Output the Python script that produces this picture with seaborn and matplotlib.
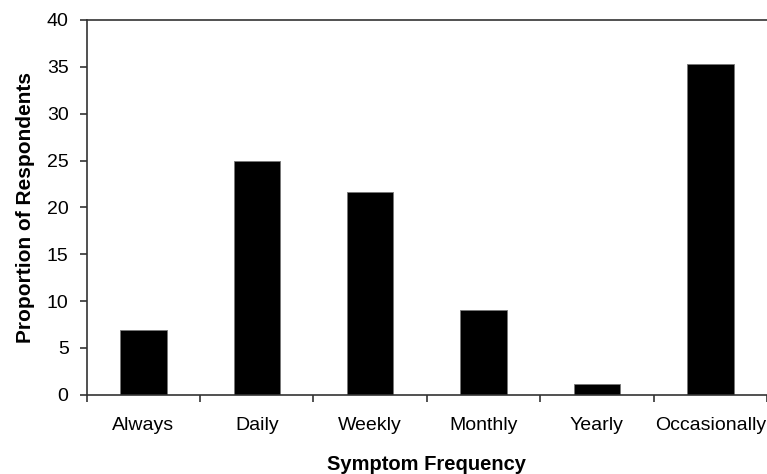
import seaborn as sns
import matplotlib.pyplot as plt
import numpy as np
from matplotlib.ticker import FixedLocator

categories = ["Always", "Daily", "Weekly", "Monthly", "Yearly", "Occasionally"]
proportions = [6.9, 25.0, 21.6, 9.1, 1.2, 35.3]

sns.set_style("white")
plt.rcParams["font.family"] = ["Liberation Sans", "DejaVu Sans"]
plt.rcParams["text.color"] = "black"
plt.rcParams["axes.labelcolor"] = "black"
plt.rcParams["xtick.color"] = "black"
plt.rcParams["ytick.color"] = "black"

fig = plt.figure(figsize=(7.67, 4.74), dpi=100)
ax = fig.add_axes([0.113, 0.167, 0.887, 0.791])

sns.barplot(x=categories, y=proportions, color="black", width=0.41,
            edgecolor="#777777", linewidth=0.6, saturation=1, ax=ax)

ax.set_xlim(-0.5, len(categories) - 0.5)
ax.set_ylim(0, 40)
ax.set_yticks(np.arange(0, 41, 5))

spine_color = "#333333"
for side in ["left", "bottom", "top"]:
    ax.spines[side].set_visible(True)
    ax.spines[side].set_color(spine_color)
    ax.spines[side].set_linewidth(1.2)
ax.spines["right"].set_visible(False)

# category labels without ticks, tick marks between categories
ax.tick_params(axis="x", which="major", length=0, pad=16, labelsize=14)
ax.xaxis.set_minor_locator(FixedLocator(np.arange(-0.5, len(categories), 1.0)))
ax.tick_params(axis="x", which="minor", bottom=True, direction="out",
               length=5, width=1.2, color=spine_color)
ax.tick_params(axis="y", left=True, direction="out", length=5, width=1.2,
               color=spine_color, pad=8, labelsize=14)

ax.set_xlabel("Symptom Frequency", fontsize=14.5, fontweight="bold")
ax.set_ylabel("Proportion of Respondents", fontsize=15, fontweight="bold")
ax.xaxis.label.set_verticalalignment("baseline")
ax.xaxis.set_label_coords(0.5, -0.2)
ax.yaxis.set_label_coords(-0.076, 0.5)

fig.savefig("out.png", dpi=100)
